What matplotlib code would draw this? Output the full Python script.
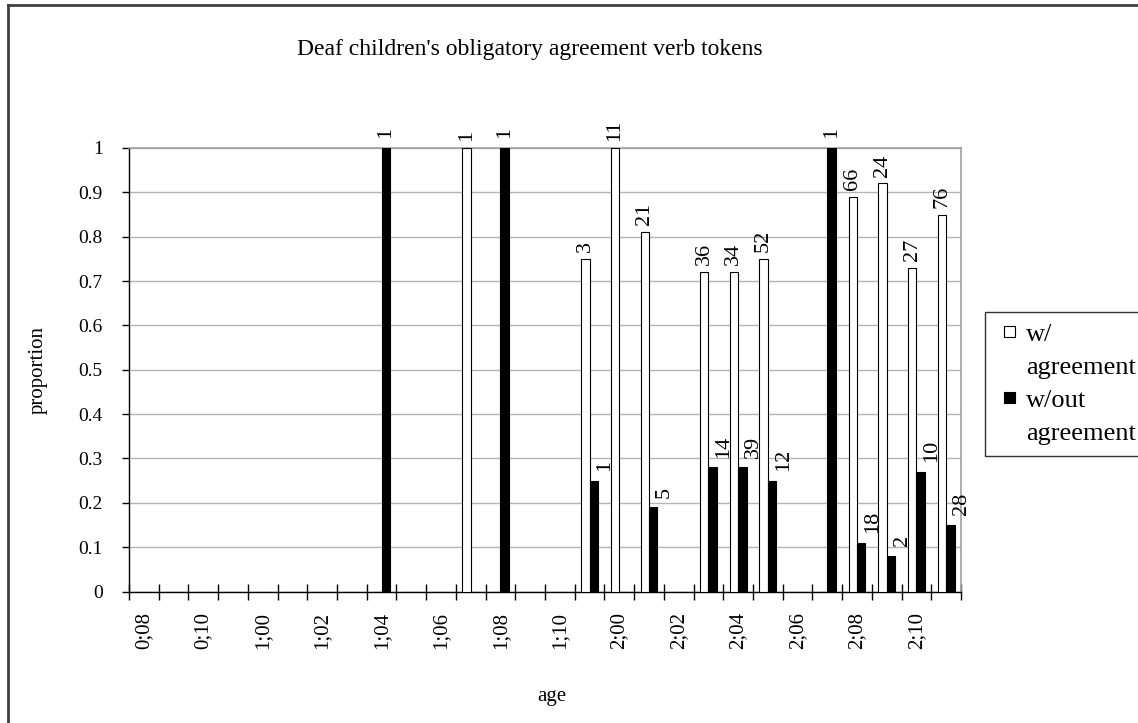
import matplotlib.pyplot as plt
import numpy as np
from matplotlib.lines import Line2D
from matplotlib.patches import Patch, Rectangle
from matplotlib.legend_handler import HandlerPatch

plt.rcParams['font.family'] = ['Liberation Serif', 'DejaVu Serif']

ages = ['0;08', '0;09', '0;10', '0;11',
        '1;00', '1;01', '1;02', '1;03', '1;04', '1;05',
        '1;06', '1;07', '1;08', '1;09', '1;10', '1;11',
        '2;00', '2;01', '2;02', '2;03', '2;04', '2;05',
        '2;06', '2;07', '2;08', '2;09', '2;10', '2;11']

# proportion of tokens with / without agreement at each age
with_agr = [0, 0, 0, 0, 0, 0, 0, 0, 0, 0, 0, 1.0, 0, 0, 0, 0.75,
            1.0, 0.81, 0, 0.72, 0.72, 0.75, 0, 0, 0.89, 0.92, 0.73, 0.85]
without_agr = [0, 0, 0, 0, 0, 0, 0, 0, 1.0, 0, 0, 0, 1.0, 0, 0, 0.25,
               0, 0.19, 0, 0.28, 0.28, 0.25, 0, 1.0, 0.11, 0.08, 0.27, 0.15]

# token counts printed above the bars
with_counts = [None] * 11 + ['1', None, None, None, '3', '11', '21', None,
                             '36', '34', '52', None, None, '66', '24', '27', '76']
without_counts = [None] * 8 + ['1', None, None, None, '1', None, None, '1',
                               None, '5', None, '14', '39', '12', None, '1',
                               '18', '2', '10', '28']


def small_square(legend, orig_handle, xdescent, ydescent, width, height, fontsize):
    s = 0.42 * fontsize
    return Rectangle((-xdescent + width - s, -ydescent + (height - s) / 2), s, s)


fig = plt.figure(figsize=(11.38, 7.23), dpi=100)
ax = fig.add_axes([129 / 1138, 1 - 591.5 / 723, 832 / 1138, 443.5 / 723])

x = np.arange(len(ages))
w = 1 / 3.5
ax.bar(x - w / 2, with_agr, w, color='white', edgecolor='black', linewidth=0.8,
       zorder=3)
ax.bar(x + w / 2, without_agr, w, color='black', edgecolor='black', linewidth=0.8,
       zorder=3)

for i in range(len(ages)):
    if with_counts[i] is not None:
        ax.annotate(with_counts[i], (x[i] - w / 2, with_agr[i]), xytext=(0, 5),
                    textcoords='offset points', rotation=90, ha='center',
                    va='bottom', fontsize=16)
    if without_counts[i] is not None:
        dx = 8 if with_agr[i] > 0 else 0
        ax.annotate(without_counts[i], (x[i] + w / 2, without_agr[i]),
                    xytext=(dx, 7), textcoords='offset points', rotation=90,
                    ha='center', va='bottom', fontsize=16)

ax.set_xlim(-0.5, len(ages) - 0.5)
ax.set_ylim(0, 1)
ax.set_yticks(np.arange(0, 1.01, 0.1))
ax.set_yticklabels(['0', '0.1', '0.2', '0.3', '0.4', '0.5', '0.6', '0.7',
                    '0.8', '0.9', '1'])
ax.yaxis.grid(True, color='#b4b4b4', linewidth=1)
ax.set_axisbelow(True)

ax.set_xticks(x[::2])
ax.set_xticklabels(ages[::2], rotation=90, va='top', ha='center')
ax.set_xticks(np.arange(-0.5, len(ages)), minor=True)
ax.tick_params(axis='x', which='major', length=0, pad=15, labelsize=15)
ax.tick_params(axis='x', which='minor', direction='inout', length=12,
               width=1, color='black')
ax.tick_params(axis='y', which='major', direction='out', length=5,
               width=1, pad=14, labelsize=14)

for side in ['top', 'right']:
    ax.spines[side].set_color('#a0a0a0')
    ax.spines[side].set_linewidth(1.2)
for side in ['left', 'bottom']:
    ax.spines[side].set_color('black')
    ax.spines[side].set_linewidth(1)

ax.set_ylabel('proportion', fontsize=15, labelpad=22)
ax.set_xlabel('age', fontsize=15)
ax.xaxis.set_label_coords(0.508, -0.215)
fig.text(530 / 1138, 1 - 50 / 723, "Deaf children's obligatory agreement verb tokens",
         ha='center', va='center', fontsize=17)

# legend rows: each label wraps onto a second line without a key
blank = Patch(facecolor='none', edgecolor='none')
handles = [Patch(facecolor='white', edgecolor='black', linewidth=0.8), blank,
           Patch(facecolor='black', edgecolor='black', linewidth=0.8), blank]
labels = ['w/', 'agreement', 'w/out', 'agreement']
leg = fig.legend(handles, labels, loc='upper left',
                 bbox_to_anchor=(985 / 1138, 1 - 312 / 723),
                 bbox_transform=fig.transFigure, borderaxespad=0, fontsize=19,
                 frameon=True, fancybox=False, handlelength=0.75, handleheight=0.7,
                 handletextpad=0.4, labelspacing=0.36, borderpad=0.4,
                 handler_map={Patch: HandlerPatch(patch_func=small_square)})
leg.get_frame().set_edgecolor('black')
leg.get_frame().set_linewidth(1)

# chart area outline
fig.add_artist(Line2D([8 / 1138, 8 / 1138], [0, 1 - 5 / 723], color='#404040',
                      linewidth=2, transform=fig.transFigure))
fig.add_artist(Line2D([8 / 1138, 1], [1 - 5 / 723, 1 - 5 / 723], color='#404040',
                      linewidth=2, transform=fig.transFigure))

fig.savefig('out.png', dpi=100)
